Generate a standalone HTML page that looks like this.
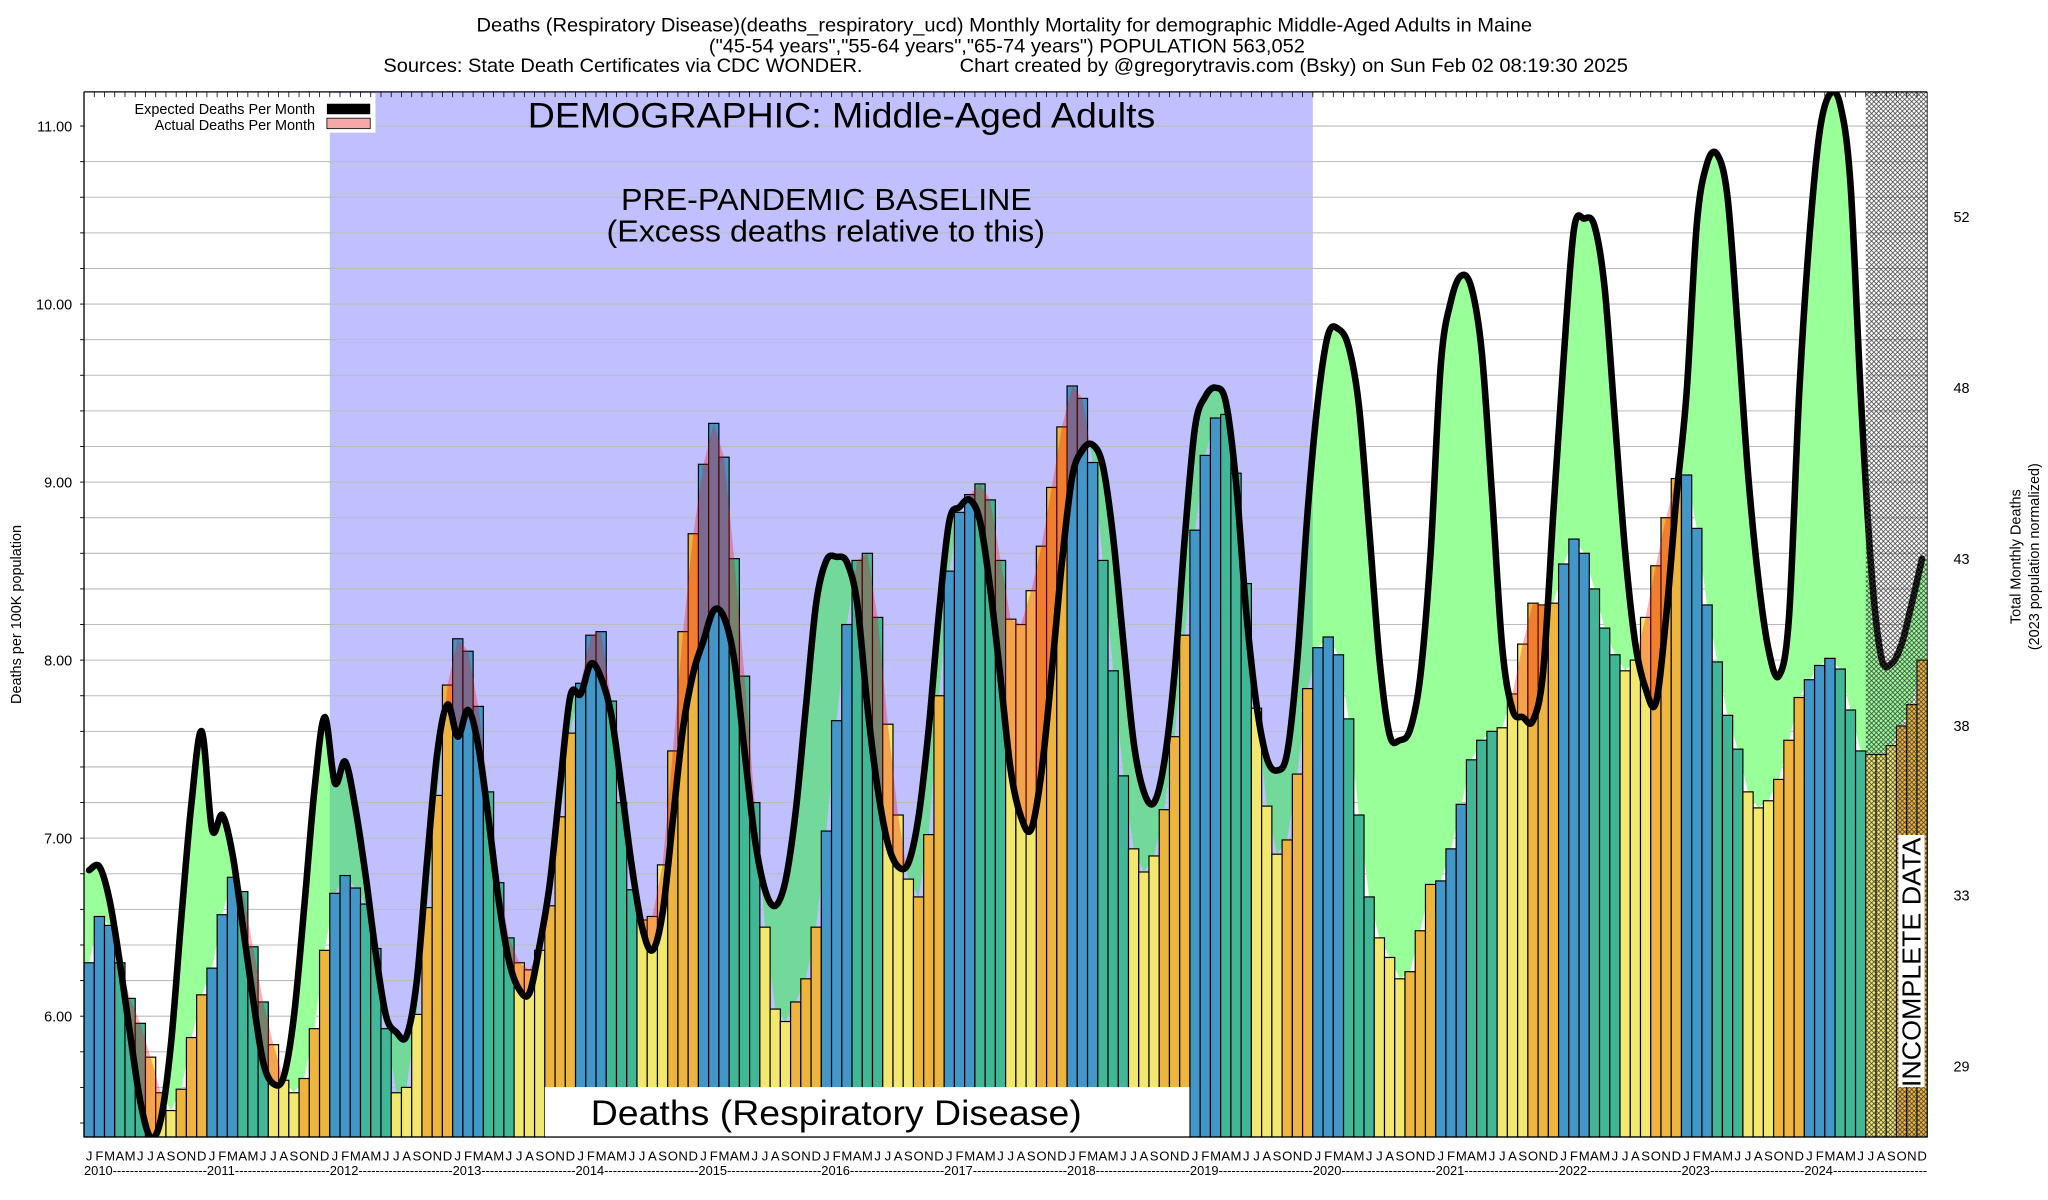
<!DOCTYPE html>
<html><head><meta charset="utf-8"><style>
html,body{margin:0;padding:0;background:#fff;}
svg{display:block;font-family:"Liberation Sans",Arial,sans-serif;}
</style></head><body>
<svg id="chart" width="2048" height="1200" viewBox="0 0 1560 914" preserveAspectRatio="none" xmlns="http://www.w3.org/2000/svg">
<defs>
<pattern id="hatch" width="3.6" height="3.6" patternUnits="userSpaceOnUse">
<path d="M0,0L3.6,3.6M3.6,0L0,3.6" stroke="#333" stroke-width="0.55"/>
</pattern>
<clipPath id="plotClip"><rect x="64" y="70" width="1404" height="796"/></clipPath>
<clipPath id="baseClip"><rect x="251.2" y="70" width="748.8" height="796"/></clipPath>
<clipPath id="aboveA"><path id="aboveAPath" d=""/></clipPath>
<clipPath id="belowA"><path id="belowAPath" d=""/></clipPath>
</defs>
<rect x="0" y="0" width="1560" height="914" fill="#fff"/>
<g font-size="14.5" fill="#000">
<text x="363" y="24" textLength="804" lengthAdjust="spacingAndGlyphs">Deaths (Respiratory Disease)(deaths_respiratory_ucd) Monthly Mortality for demographic Middle-Aged Adults in Maine</text>
<text x="540" y="40" textLength="454" lengthAdjust="spacingAndGlyphs">("45-54 years","55-64 years","65-74 years") POPULATION 563,052</text>
<text x="292" y="55" textLength="365" lengthAdjust="spacingAndGlyphs">Sources: State Death Certificates via CDC WONDER.</text>
<text x="731" y="55" textLength="509" lengthAdjust="spacingAndGlyphs">Chart created by @gregorytravis.com (Bsky) on Sun Feb 02 08:19:30 2025</text>
</g>
<rect x="251.2" y="70" width="748.8" height="796" fill="#c0c0ff"/>
<g id="grid"></g>
<g id="fills" clip-path="url(#plotClip)"></g>
<g id="bars"></g>
<g id="redfill" clip-path="url(#plotClip)"></g>
<path id="expLine" fill="none" stroke="#000" stroke-width="5" stroke-linejoin="round" stroke-linecap="round" clip-path="url(#plotClip)"/>
<rect x="1421.2" y="70" width="46.8" height="796" fill="url(#hatch)"/>
<rect x="1446" y="636" width="20" height="192" fill="#fff"/>
<text transform="translate(1463,828) rotate(-90)" font-size="20" textLength="190" lengthAdjust="spacingAndGlyphs">INCOMPLETE DATA</text>
<g>
<text x="402" y="97" font-size="27" textLength="478" lengthAdjust="spacingAndGlyphs">DEMOGRAPHIC: Middle-Aged Adults</text>
</g>
<g font-size="23">
<text x="473" y="160" textLength="313" lengthAdjust="spacingAndGlyphs">PRE-PANDEMIC BASELINE</text>
<text x="462" y="184" textLength="334" lengthAdjust="spacingAndGlyphs">(Excess deaths relative to this)</text>
</g>
<rect x="415" y="828" width="491" height="38" fill="#fff"/>
<text x="450" y="857" font-size="27" textLength="374" lengthAdjust="spacingAndGlyphs">Deaths (Respiratory Disease)</text>
<g>
<rect x="65" y="71" width="221" height="30" fill="#fff"/>
<text x="240" y="87" font-size="11" text-anchor="end">Expected Deaths Per Month</text>
<rect x="249" y="79" width="33" height="8" fill="#000"/>
<text x="240" y="99" font-size="11" text-anchor="end">Actual Deaths Per Month</text>
<rect x="249" y="90" width="33" height="8" fill="#f4a8a8" stroke="#000" stroke-width="0.6"/>
</g>
<g id="axes">
<line x1="64" y1="70" x2="64" y2="866" stroke="#000" stroke-width="1"/>
<line x1="64" y1="866" x2="1468" y2="866" stroke="#000" stroke-width="1"/>
<line x1="64" y1="70" x2="1468" y2="70" stroke="#000" stroke-width="1"/>
<line x1="1468" y1="70" x2="1468" y2="866" stroke="#000" stroke-width="0.6"/>
</g>
<g id="leftTicks" font-size="11" text-anchor="end"></g>
<g id="rightTicks" font-size="11"></g>
<g id="xTicks" font-size="10"></g>
<text transform="translate(16,468) rotate(-90)" font-size="11" text-anchor="middle">Deaths per 100K population</text>
<g font-size="11" text-anchor="middle">
<text transform="translate(1539,424) rotate(-90)">Total Monthly Deaths</text>
<text transform="translate(1553,424) rotate(-90)">(2023 population normalized)</text>
</g>
</svg>
<script>
const years = [2010,2011,2012,2013,2014,2015,2016,2017,2018,2019,2020,2021,2022,2023,2024];
const monthLetters = ["J","F","M","A","M","J","J","A","S","O","N","D"];
const actual = [
6.30,6.56,6.51,6.30,6.10,5.96,5.77,5.57,5.47,5.59,5.88,6.12,
6.27,6.57,6.78,6.70,6.39,6.08,5.84,5.64,5.57,5.65,5.93,6.37,
6.69,6.79,6.72,6.63,6.38,5.93,5.57,5.60,6.01,6.61,7.24,7.86,
8.12,8.05,7.74,7.26,6.75,6.44,6.30,6.26,6.37,6.62,7.12,7.59,
7.87,8.14,8.16,7.77,7.20,6.71,6.54,6.56,6.85,7.49,8.16,8.71,
9.10,9.33,9.14,8.57,7.91,7.20,6.50,6.04,5.97,6.08,6.21,6.50,
7.04,7.66,8.20,8.56,8.60,8.24,7.64,7.13,6.77,6.67,7.02,7.80,
8.50,8.83,8.93,8.99,8.90,8.56,8.23,8.20,8.39,8.64,8.97,9.31,
9.54,9.47,9.11,8.56,7.94,7.35,6.94,6.81,6.90,7.16,7.57,8.14,
8.73,9.15,9.36,9.38,9.05,8.43,7.73,7.18,6.91,6.99,7.36,7.84,
8.07,8.13,8.03,7.67,7.13,6.67,6.44,6.33,6.21,6.25,6.48,6.74,
6.76,6.94,7.19,7.44,7.55,7.60,7.62,7.81,8.09,8.32,8.31,8.32,
8.54,8.68,8.60,8.40,8.18,8.03,7.94,8.00,8.24,8.53,8.80,9.02,
9.04,8.74,8.31,7.99,7.69,7.50,7.26,7.17,7.21,7.33,7.55,7.79,
7.89,7.97,8.01,7.95,7.72,7.49,7.47,7.47,7.52,7.63,7.75,8.00];
const expected = [
6.82,6.84,6.65,6.30,5.90,5.52,5.32,5.42,5.85,6.55,7.20,7.60,
7.05,7.13,6.91,6.51,6.10,5.74,5.62,5.66,6.00,6.61,7.27,7.68,
7.31,7.43,7.17,6.79,6.35,6.00,5.91,5.89,6.20,6.87,7.48,7.75,
7.57,7.72,7.52,7.11,6.65,6.31,6.15,6.13,6.40,6.75,7.30,7.80,
7.81,7.98,7.90,7.69,7.28,6.84,6.50,6.37,6.58,7.10,7.62,7.93,
8.11,8.28,8.24,8.00,7.49,7.00,6.71,6.62,6.76,7.15,7.74,8.32,
8.56,8.58,8.55,8.32,7.74,7.28,6.97,6.84,6.86,7.12,7.62,8.27,
8.78,8.86,8.90,8.78,8.40,7.90,7.38,7.12,7.05,7.37,7.93,8.55,
9.03,9.18,9.21,9.09,8.69,8.10,7.54,7.26,7.20,7.43,7.93,8.69,
9.31,9.48,9.53,9.45,9.00,8.27,7.75,7.45,7.38,7.48,8.01,8.84,
9.46,9.83,9.86,9.76,9.43,8.74,8.01,7.58,7.55,7.61,7.91,8.60,
9.66,10.02,10.16,10.09,9.73,8.93,8.07,7.72,7.68,7.66,7.94,8.84,
9.70,10.42,10.48,10.44,10.09,9.35,8.61,8.09,7.84,7.76,8.24,8.91,
9.50,10.45,10.79,10.84,10.60,9.86,9.05,8.46,8.06,7.91,8.24,9.50,
10.38,10.97,11.18,11.12,10.68,9.50,8.54,8.02,7.98,8.09,8.32,8.57];
const leftTickLabels = ["6.00","7.00","8.00","9.00","10.00","11.00"];
const leftTickValues = [6,7,8,9,10,11];
const rightTickLabels = ["29","33","38","43","48","52"];
const rightTickValues = [5.72,6.68,7.63,8.57,9.53,10.49];

const NS = "http://www.w3.org/2000/svg";
const X0 = 64, MW = 7.8, PB = 866, PT = 70;
function xC(i){ return X0 + (i + 0.5) * MW; }
function xL(i){ return X0 + i * MW; }
function yV(v){ return 96 + (11 - v) * 135.6; }
function mk(tag, attrs, parent){ const e = document.createElementNS(NS, tag); for (const k in attrs) e.setAttribute(k, attrs[k]); parent.appendChild(e); return e; }

const grid = document.getElementById('grid');
for (let v = 5.4; v <= 11.2; v += 0.2) {
  const y = yV(v);
  if (y < PT || y > PB) continue;
  const l = mk('line', {x1: X0, x2: 1468, y1: y, y2: y, stroke: '#bbb', 'stroke-width': 0.8}, grid);
  
  
}

function smoothPath(pts) {
  let d = `M${pts[0][0]},${pts[0][1]}`;
  for (let i = 0; i < pts.length - 1; i++) {
    const p0 = pts[Math.max(0, i - 1)], p1 = pts[i], p2 = pts[i + 1], p3 = pts[Math.min(pts.length - 1, i + 2)];
    const c1 = [p1[0] + (p2[0] - p0[0]) / 6, p1[1] + (p2[1] - p0[1]) / 6];
    const c2 = [p2[0] - (p3[0] - p1[0]) / 6, p2[1] - (p3[1] - p1[1]) / 6];
    d += ` C${c1[0]},${c1[1]} ${c2[0]},${c2[1]} ${p2[0]},${p2[1]}`;
  }
  return d;
}
const ePts = expected.map((v, i) => [xC(i), yV(v)]);
const eD = smoothPath(ePts);
document.getElementById('expLine').setAttribute('d', eD);

const aPts = [[X0, yV(actual[0])]].concat(actual.map((v, i) => [xC(i), yV(v)]), [[1468, yV(actual[actual.length - 1])]]);
const aLine = aPts.map((p, i) => (i ? 'L' : '') + p[0] + ',' + p[1]).join(' ');
document.getElementById('aboveAPath').setAttribute('d', 'M' + aLine + ` L1468,0 L${X0},0 Z`);
document.getElementById('belowAPath').setAttribute('d', 'M' + aLine + ` L1468,900 L${X0},900 Z`);

const eStart = yV(expected[0]), eEnd = yV(expected[expected.length - 1]);
const eBody = eD.replace(/^M[^ ]+/, '');
const underE = `M${X0},${eStart} L${ePts[0][0]},${ePts[0][1]} ` + eBody + ` L1468,${eEnd} L1468,900 L${X0},900 Z`;
const aboveE = `M${X0},${eStart} L${ePts[0][0]},${ePts[0][1]} ` + eBody + ` L1468,${eEnd} L1468,0 L${X0},0 Z`;

const fills = document.getElementById('fills');
const gA = mk('g', {'clip-path': 'url(#aboveA)'}, fills);
const g1 = mk('path', {d: underE, fill: '#99ff99'}, gA);


const gB = mk('g', {'clip-path': 'url(#baseClip)'}, gA);
const g2 = mk('path', {d: underE, fill: '#72d99a'}, gB);



const colors = ['#4396c8', '#41b797', '#f3e86f', '#edb43f'];
const bars = document.getElementById('bars');
actual.forEach((v, i) => {
  const y = yV(v);
  const r = mk('rect', {x: xL(i), y: y, width: MW, height: PB - y, fill: colors[Math.floor((i % 12) / 3)], stroke: '#000', 'stroke-width': 0.9}, bars);
  
  
});

const red = document.getElementById('redfill');
const gR = mk('g', {'clip-path': 'url(#belowA)'}, red);
const rp = mk('path', {d: aboveE, fill: 'rgba(246,10,10,0.31)'}, gR);



const lt = document.getElementById('leftTicks');
leftTickValues.forEach((v, k) => {
  const y = yV(v);
  const t = mk('text', {x: 55, y: y + 4}, lt);
  t.textContent = leftTickLabels[k];
  
  
});
for (let v = 5.4; v <= 11.2; v += 0.2) {
  const y = yV(v); if (y < PT || y > PB) continue;
  mk('line', {x1: X0 - 3, x2: X0, y1: y, y2: y, stroke: '#000', 'stroke-width': 0.7}, lt);
}
const rt = document.getElementById('rightTicks');
rightTickValues.forEach((v, k) => {
  const t = mk('text', {x: 1488, y: yV(v) + 4}, rt);
  t.textContent = rightTickLabels[k];
  
  
});

const xt = document.getElementById('xTicks');
for (let i = 0; i < actual.length; i++) {
  const t = mk('text', {x: xC(i), y: 884, 'text-anchor': 'middle'}, xt);
  t.textContent = monthLetters[i % 12];
  
  
  mk('line', {x1: xL(i), x2: xL(i), y1: PT, y2: PT + 4, stroke: '#000', 'stroke-width': 0.6}, xt);
}
years.forEach((yr, k) => {
  const t = mk('text', {x: xL(k * 12), y: 895, textLength: 12 * MW, lengthAdjust: 'spacingAndGlyphs'}, xt);
  t.textContent = yr + '----------------------';
  
  
});
</script>
</body></html>
